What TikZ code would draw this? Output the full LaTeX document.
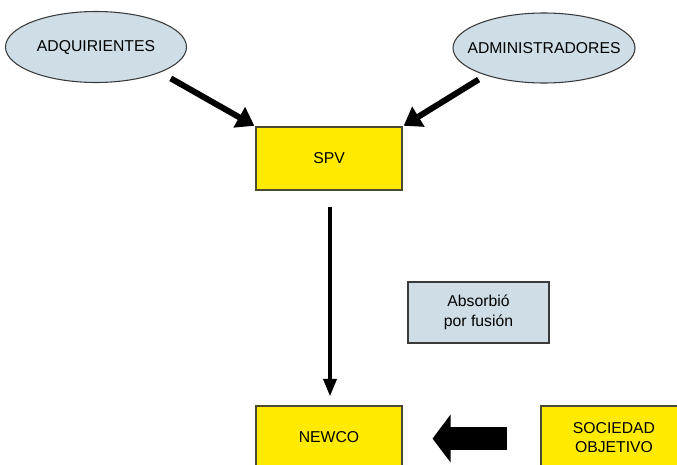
\documentclass[tikz,border=0pt]{standalone}
\usepackage{fontspec}
\setmainfont{Liberation Sans}
\usetikzlibrary{arrows.meta,shapes.geometric}
\definecolor{boxyellow}{HTML}{FFEA00}
\definecolor{boxedge}{HTML}{4A4A30}
\definecolor{paleblue}{HTML}{CEDDE6}
\definecolor{paleedge}{HTML}{3A3A3A}
\begin{document}
\begin{tikzpicture}[x=0.75pt,y=-0.75pt, % one unit = one pixel of the sketch
  txt/.style={font=\fontsize{11.8}{14.6}\selectfont,align=center,inner sep=0pt},
  party/.style={txt,ellipse,draw=paleedge,fill=paleblue,line width=0.8pt},
  firm/.style={txt,rectangle,draw=boxedge,fill=boxyellow,line width=0.8pt,
    minimum width=109.5pt,minimum height=47.25pt},
  note/.style={txt,rectangle,draw=paleedge,fill=paleblue,line width=0.8pt,
    minimum width=105.75pt,minimum height=45.75pt},
  fat/.style={line width=4.5pt,-{Triangle[length=13pt,width=17pt]}},
  thin/.style={line width=3.6pt,-{Triangle[length=13.5pt,width=9.5pt]}}]
\clip (0,0) rectangle (677,464);

\node[party,minimum width=135.75pt,minimum height=53.25pt] (adq) at (96,47) {ADQUIRIENTES};
\node[party,inner xsep=-10pt,minimum width=136.5pt,minimum height=52.5pt] (adm) at (544,48) {ADMINISTRADORES};
\node[firm] (spv) at (329,158.5) {SPV};
\node[note] (fusion) at (478.5,312.5) {Absorbió\\por fusión};
\node[firm] (newco) at (329,437.5) {NEWCO};
\node[firm] (target) at (614,437.5) {SOCIEDAD\\OBJETIVO};

\draw[fat,shorten <=9pt,shorten >=1pt] (adq.south east) -- (spv.north west);
\draw[fat,shorten <=6pt,shorten >=1pt] (adm.205) -- (spv.north east);
\draw[thin,shorten <=12pt,shorten >=6.5pt] ([xshift=0.75pt]spv.south) -- ([xshift=0.75pt]newco.north);

% block arrow
\draw[line width=17.25pt,-{Triangle[length=13.5pt,width=35.25pt]},shorten <=24.75pt,shorten >=22.5pt]
  ([yshift=-0.75pt]target.west) -- ([yshift=-0.75pt]newco.east);
\end{tikzpicture}
\end{document}
